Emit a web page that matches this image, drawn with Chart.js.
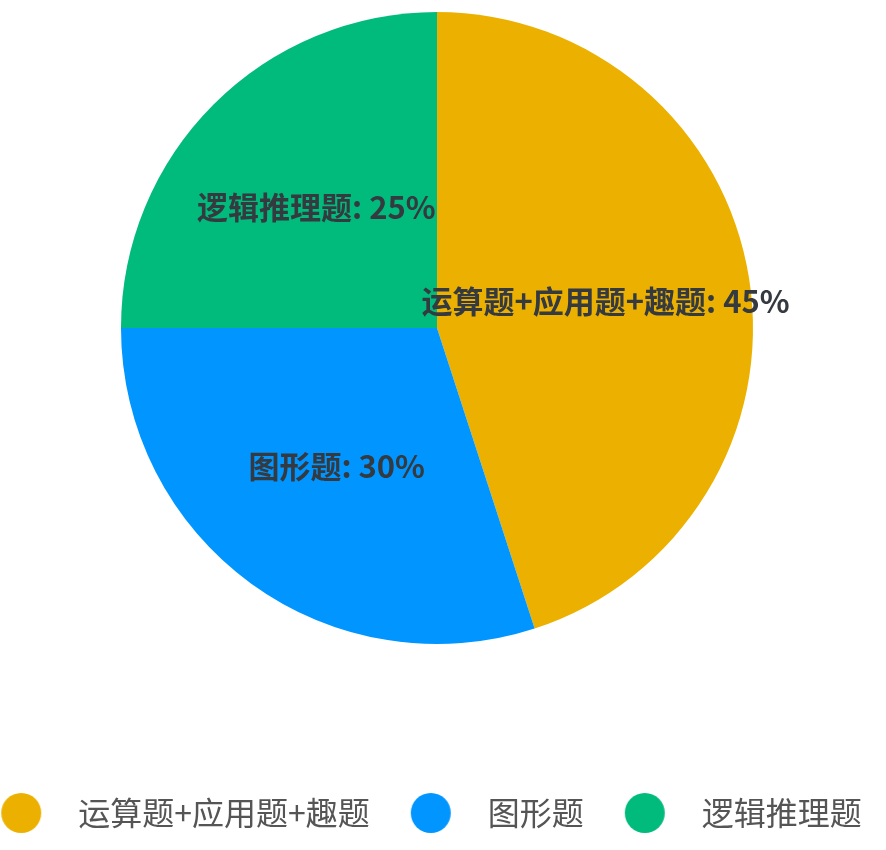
<!DOCTYPE html>
<html>
<head>
<meta charset="utf-8">
<script src="https://cdn.jsdelivr.net/npm/chart.js@4.4.1/dist/chart.umd.min.js"></script>
<style>
  body { margin: 0; background: #fff; }
  #wrap { width: 886px; height: 850px; }
</style>
</head>
<body>
<div id="wrap"><canvas id="pieChart"></canvas></div>
<script>
const categories = ['运算题+应用题+趣题', '图形题', '逻辑推理题'];
const shares = [45, 30, 25];
const sliceColors = ['#ECB100', '#0095FF', '#00BB7B'];

const FONT = '"Noto Sans CJK SC", "Microsoft YaHei", sans-serif';

// legend dots: 40px circle on a small image, shifted a bit right of the image centre
function makeDot(color) {
    const c = document.createElement('canvas');
    c.width = 56;
    c.height = 40;
    const g = c.getContext('2d');
    g.fillStyle = color;
    g.beginPath();
    g.arc(35, 20, 20, 0, Math.PI * 2);
    g.fill();
    return c;
}
const dots = sliceColors.map(makeDot);

// "name: value%" written in the middle of each slice
const sliceLabels = {
    id: 'sliceLabels',
    afterDatasetsDraw(chart) {
        const ctx = chart.ctx;
        const meta = chart.getDatasetMeta(0);
        ctx.save();
        ctx.font = 'bold 31px ' + FONT;
        ctx.fillStyle = '#343a40';
        ctx.textAlign = 'center';
        ctx.textBaseline = 'middle';
        meta.data.forEach((arc, i) => {
            const p = arc.getProps(['x', 'y', 'startAngle', 'endAngle', 'outerRadius'], true);
            const mid = (p.startAngle + p.endAngle) / 2;
            const r = p.outerRadius * 0.54;
            ctx.fillText(categories[i] + ': ' + shares[i] + '%', p.x + Math.cos(mid) * r, p.y + Math.sin(mid) * r);
        });
        ctx.restore();
    }
};

const ctx = document.getElementById('pieChart').getContext('2d');
const pieChart = new Chart(ctx, {
    type: 'pie',
    data: {
        labels: categories,
        datasets: [{
            data: shares,
            backgroundColor: sliceColors,
            borderWidth: 0,
            hoverOffset: 0
        }]
    },
    options: {
        responsive: true,
        maintainAspectRatio: false,
        animation: false,
        layout: {
            // negative left only widens the legend row, the pie area stays at 0
            padding: { left: -46, right: 12, top: 12, bottom: 11 }
        },
        plugins: {
            tooltip: { enabled: false },
            legend: {
                position: 'bottom',
                // empty title only used to push the legend row down
                title: { display: true, text: '', font: { size: 10, lineHeight: 1 }, padding: { top: 137, bottom: 0 } },
                labels: {
                    usePointStyle: true,
                    pointStyleWidth: 96,
                    boxHeight: 30,
                    padding: 6,
                    color: '#555555',
                    font: { family: FONT, size: 32 },
                    generateLabels(chart) {
                        return Chart.overrides.pie.plugins.legend.labels.generateLabels(chart)
                            .map(item => ({ ...item, pointStyle: dots[item.index] }));
                    }
                }
            }
        }
    },
    plugins: [sliceLabels]
});
</script>
</body>
</html>
